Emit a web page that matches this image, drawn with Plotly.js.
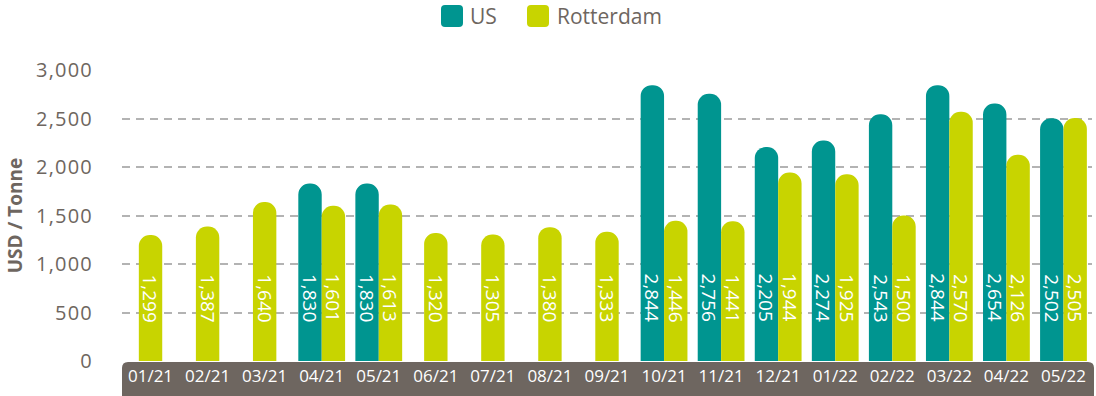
<!DOCTYPE html>
<html>
<head>
<meta charset="utf-8">
<script src="https://cdn.plot.ly/plotly-3.0.1.min.js"></script>
<style>
  html, body { margin: 0; padding: 0; background: #ffffff; }
  #chart { width: 1096px; height: 396px; }
  #chart .ytick text { letter-spacing: 1.2px; }
</style>
</head>
<body>
<div id="chart"></div>
<script>
// ---- data ----
const months = ['01/21','02/21','03/21','04/21','05/21','06/21','07/21','08/21','09/21','10/21','11/21','12/21','01/22','02/22','03/22','04/22','05/22'];
const usValues = [null,null,null,1830,1830,null,null,null,null,2844,2756,2205,2274,2543,2844,2654,2502];
const rotterdamValues = [1299,1387,1640,1601,1613,1320,1305,1380,1333,1446,1441,1944,1925,1500,2570,2126,2505];
const yTickVals = [0,500,1000,1500,2000,2500,3000];
const seriesNames = ['US', 'Rotterdam'];

// ---- style ----
const TEAL = '#009590';
const LIME = '#c8d400';
const GREY = '#6e6660';
const FONT = 'Open Sans, Lato, sans-serif';
const BW = 0.41;           // bar width (category units)
const LABEL_Y = 650;       // vertical level of the rotated value labels

// plot-area geometry in pixels (for paper-referenced decorations)
const ML = 122, MR = 4, MT = 70, MB = 35, FW = 1096, FH = 396;
const PW = FW - ML - MR, PH = FH - MT - MB;
const px = x => (x - ML) / PW;
const py = y => (FH - MB - y) / PH;

const idx = months.map((m, i) => i);
const fmt = v => v.toLocaleString('en-US');

const usTrace = {
  type: 'bar', name: seriesNames[0],
  x: idx, y: usValues,
  width: BW, offset: -BW,
  marker: { color: TEAL, cornerradius: '50%' },
  hoverinfo: 'skip', showlegend: false
};
const rotOffsets = usValues.map(v => v == null ? -BW / 2 : 0);
const rotTrace = {
  type: 'bar', name: seriesNames[1],
  x: idx, y: rotterdamValues,
  width: BW, offset: rotOffsets,
  marker: { color: LIME, cornerradius: '50%' },
  hoverinfo: 'skip', showlegend: false
};

const labelFont = { family: FONT, size: 19, color: '#ffffff' };
const annotations = [];
usValues.forEach((v, i) => {
  if (v == null) return;
  annotations.push({ x: i - BW / 2, y: LABEL_Y, xref: 'x', yref: 'y', text: fmt(v),
    textangle: 90, showarrow: false, xanchor: 'center', yanchor: 'middle', font: labelFont });
});
rotterdamValues.forEach((v, i) => {
  const cx = i + rotOffsets[i] + BW / 2;
  annotations.push({ x: cx, y: LABEL_Y, xref: 'x', yref: 'y', text: fmt(v),
    textangle: 90, showarrow: false, xanchor: 'center', yanchor: 'middle', font: labelFont });
});

// legend (drawn as rounded swatches + text)
function roundRect(x0, y0, x1, y1, r) {
  const X0 = px(x0), X1 = px(x1), Y0 = py(y0), Y1 = py(y1);
  const rx = r / PW, ry = r / PH;
  return `M ${X0 + rx} ${Y0} L ${X1 - rx} ${Y0} Q ${X1} ${Y0} ${X1} ${Y0 - ry} L ${X1} ${Y1 + ry} Q ${X1} ${Y1} ${X1 - rx} ${Y1} L ${X0 + rx} ${Y1} Q ${X0} ${Y1} ${X0} ${Y1 + ry} L ${X0} ${Y0 - ry} Q ${X0} ${Y0} ${X0 + rx} ${Y0} Z`;
}
const legendItems = [
  { name: seriesNames[0], color: TEAL, sx: 441, tx: 468 },
  { name: seriesNames[1], color: LIME, sx: 527, tx: 555 }
];
const shapes = [];
legendItems.forEach(it => {
  shapes.push({ type: 'path', xref: 'paper', yref: 'paper', path: roundRect(it.sx, 5, it.sx + 22, 27, 4),
    fillcolor: it.color, line: { width: 0 } });
  annotations.push({ xref: 'paper', yref: 'paper', x: px(it.tx), y: py(16), xanchor: 'left', yanchor: 'middle',
    text: it.name, showarrow: false, font: { family: FONT, size: 21, color: GREY } });
});

// x-axis band
shapes.push({
  type: 'path', xref: 'paper', yref: 'paper', layer: 'below',
  path: (function () {
    const r = 6;
    const x0 = px(122), x1 = px(1094);
    const yt = py(362), yb = py(400);
    const rx = r / PW, ry = r / PH;
    return `M ${x0} ${yb} L ${x0} ${yt - ry} Q ${x0} ${yt} ${x0 + rx} ${yt} L ${x1 - rx} ${yt} Q ${x1} ${yt} ${x1} ${yt - ry} L ${x1} ${yb} Z`;
  })(),
  fillcolor: GREY, line: { width: 0 }
});

const layout = {
  width: FW, height: FH,
  margin: { l: ML, r: MR, t: MT, b: MB },
  paper_bgcolor: '#ffffff', plot_bgcolor: '#ffffff',
  font: { family: FONT, color: GREY },
  barmode: 'overlay',
  showlegend: false,
  xaxis: {
    type: 'linear', range: [-0.5, months.length - 0.5],
    tickvals: idx, ticktext: months,
    tickfont: { family: FONT, size: 17, color: '#ffffff' },
    ticks: '', showgrid: false, zeroline: false, showline: false,
    ticklabelstandoff: 3, fixedrange: true
  },
  yaxis: {
    range: [0, 3000], tickvals: yTickVals,
    tickformat: ',d',
    tickfont: { family: FONT, size: 20, color: GREY },
    showgrid: true, gridcolor: '#b3b3b3', gridwidth: 2, griddash: '8px,6px',
    zeroline: false, showline: false, ticks: '',
    ticklabelstandoff: 28,
    title: { text: '<b>USD / Tonne</b>', font: { family: FONT, size: 19, color: GREY }, standoff: 14 },
    fixedrange: true
  },
  shapes: shapes,
  annotations: annotations
};

Plotly.newPlot('chart', [usTrace, rotTrace], layout, { displayModeBar: false, staticPlot: true });
</script>
</body>
</html>
